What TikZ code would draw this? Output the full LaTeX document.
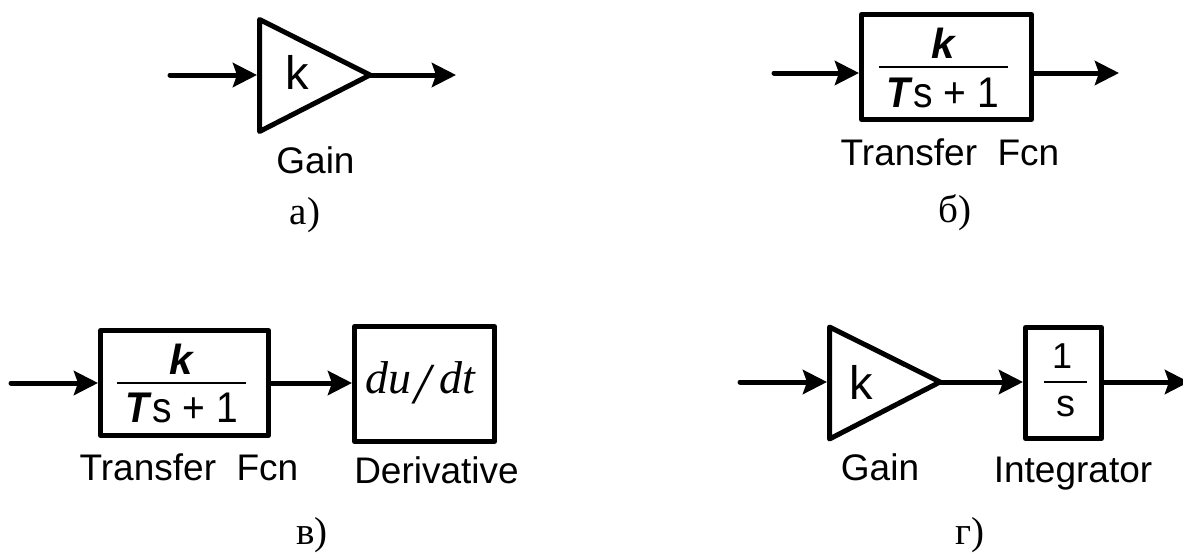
\documentclass[tikz,border=0pt]{standalone}
\usepackage{graphicx}
\usepackage{fontspec}
\setmainfont{Liberation Sans}
\newfontfamily\serifcyr{Liberation Serif}
\usetikzlibrary{arrows.meta}
\newcommand{\fs}[1]{\fontsize{#1}{#1}\selectfont}
\newcommand{\tall}[1]{\scalebox{1}[1.1]{#1}}
\tikzset{
 x=1pt,y=-1pt,
 blockbox/.style={draw=black,line width=5pt,line join=round,inner sep=0pt},
 gainshape/.style={draw=black,line width=5pt,line join=round},
 wire/.style={line width=5pt,line cap=round,-{Stealth[length=24pt,width=24pt,inset=4pt]}},
 lab/.style={inner sep=0pt,anchor=base,font=\fs{37}},
 caption/.style={inner sep=0pt,font=\serifcyr\fs{39}},
 numer/.style={inner sep=0pt,anchor=base,font=\bfseries\itshape\fs{42}},
 denom/.style={inner sep=0pt,anchor=base,font=\fs{39}},
 gaink/.style={inner sep=0pt,anchor=base,font=\fs{47}},
 fracline/.style={line width=2.8pt},
}
\begin{document}
\begin{tikzpicture}
\useasboundingbox (0,0) rectangle (1183,552);
% a
\coordinate (a1) at (170,75);
\coordinate (a2) at (456,75);
\coordinate (at) at (257,75);
\coordinate (ap) at (370,75);
\draw[gainshape] (259.5,19.5) -- (ap) -- (259.5,131.5) -- cycle;
\draw[wire] (a1) -- (at);
\draw[wire] (ap) -- (a2);
\node[gaink] (ak) at (297,89) {k};
\node[lab] (again) at (315.5,173) {Gain};
\node[caption] (acap) at (305,215) {а)};
% b
\node[blockbox,minimum width=170pt,minimum height=105pt] (bb) at (946.5,67) {};
\coordinate (b1) at (774,73);
\coordinate (b2) at (1119,73);
\draw[wire] (b1) -- (b1-|bb.west);
\draw[wire] (b2-|bb.east) -- (b2);
\node[numer] (bk) at (943.5,58) {k};
\coordinate (bl1) at (879,67); \coordinate (bl2) at (1008,67);
\draw[fracline] (bl1) -- (bl2);
\node[denom] (bd) at (943,107) {\tall{\textbf{\textit{T}}s + 1}};
\node[lab] (btf) at (950,165) {Transfer\ \ Fcn};
\node[caption] (bcap) at (955,213) {б)};
% c
\node[blockbox,minimum width=168pt,minimum height=105pt] (cb) at (184.5,383) {};
\node[blockbox,minimum width=140pt,minimum height=115pt] (db) at (424.5,384) {};
\coordinate (c1) at (11,383);
\draw[wire] (c1) -- (cb.west);
\draw[wire] (cb.east) -- (db.west|-cb.east);
\node[numer] (ck) at (181.5,374) {k};
\coordinate (cl1) at (117,383); \coordinate (cl2) at (246,383);
\draw[fracline] (cl1) -- (cl2);
\node[denom] (cd) at (182,422) {\tall{\textbf{\textit{T}}s + 1}};
\node[lab] (ctf) at (189,480) {Transfer\ \ Fcn};
\node[lab] (dlab) at (436.5,483) {Derivative};
\node[inner sep=0pt,anchor=base west,font=\serifcyr\itshape\fs{46}] (dt) at (365,393) {du\kern3pt\raisebox{-10pt}{\fs{58}/}\kern9pt dt};
\node[caption] (ccap) at (312,535) {в)};
% d
\coordinate (gtip) at (940,382);
\draw[gainshape] (829.5,327) -- (gtip) -- (829.5,439) -- cycle;
\coordinate (g1) at (740,382);
\coordinate (gin) at (827,382);
\coordinate (g2) at (1189,382);
\node[blockbox,minimum width=76pt,minimum height=111pt] (ib) at (1063.5,383) {};
\draw[wire] (g1) -- (gin);
\draw[wire] (gtip) -- (ib.west|-gtip);
\draw[wire] (ib.east|-gtip) -- (g2);
\node[gaink] (gk) at (861,399) {k};
\node[inner sep=0pt,anchor=base,font=\fs{36}] (i1) at (1062,368) {1};
\coordinate (il1) at (1044,382); \coordinate (il2) at (1087,382);
\draw[fracline] (il1) -- (il2);
\node[inner sep=0pt,anchor=base,font=\fs{38}] (is) at (1065.5,416.5) {s};
\node[lab] (ggain) at (880,480) {Gain};
\node[lab] (ilab) at (1073,482) {Integrator};
\node[caption] (gcap) at (970,535) {г)};
\end{tikzpicture}
\end{document}
